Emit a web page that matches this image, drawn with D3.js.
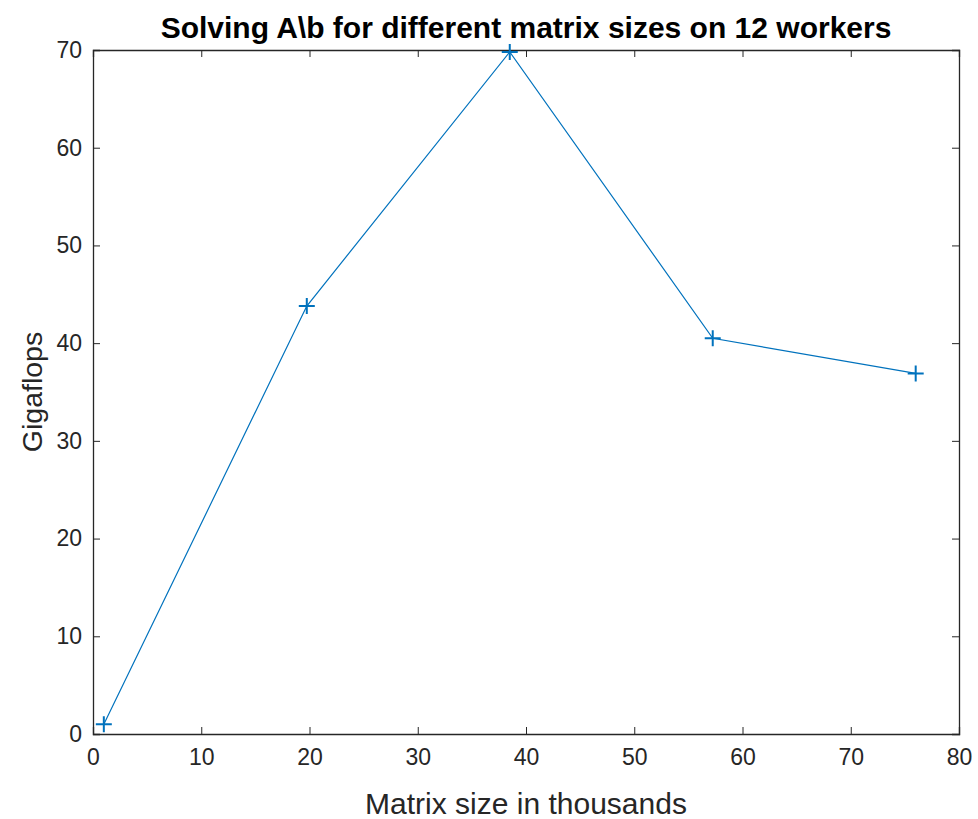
<!DOCTYPE html>
<html>
<head>
<script src="https://cdn.jsdelivr.net/npm/d3@7"></script>
<style>
  body { margin: 0; background: #fff; }
  text { font-family: "Liberation Sans", Arial, sans-serif; }
</style>
</head>
<body>
<script>
  // matrix size (thousands) and measured gigaflops
  var sizes = [1, 19.75, 38.5, 57.25, 76];
  var gflops = [1.0, 43.8, 69.8, 40.5, 36.9];
  var xTicks = [0, 10, 20, 30, 40, 50, 60, 70, 80];
  var yTicks = [0, 10, 20, 30, 40, 50, 60, 70];

  var w = 978, h = 819;
  var m = { left: 93, right: 19, top: 50, bottom: 85 };
  var tickLen = 7;

  var svg = d3.select("body").append("svg")
    .attr("width", w).attr("height", h);

  var x = d3.scaleLinear().domain([0, 80]).range([m.left, w - m.right]);
  var y = d3.scaleLinear().domain([0, 70]).range([h - m.bottom, m.top]);

  var axisColor = "#262626";

  // bottom + top
  svg.append("g")
    .attr("transform", "translate(0," + y(0) + ")")
    .call(d3.axisBottom(x).tickValues(xTicks).tickSize(-tickLen).tickPadding(15).tickFormat(d3.format("d")))
    .call(function (g) {
      g.select(".domain").attr("stroke", axisColor).attr("stroke-width", 1.3);
      g.selectAll(".tick line").attr("stroke", axisColor);
      g.selectAll(".tick text").attr("fill", axisColor).attr("font-size", 23);
    });
  svg.append("g")
    .attr("transform", "translate(0," + y(70) + ")")
    .call(d3.axisTop(x).tickValues(xTicks).tickSize(-tickLen).tickFormat(""))
    .call(function (g) {
      g.select(".domain").attr("stroke", axisColor).attr("stroke-width", 1.3);
      g.selectAll(".tick line").attr("stroke", axisColor);
    });

  // left + right
  svg.append("g")
    .attr("transform", "translate(" + x(0) + ",0)")
    .call(d3.axisLeft(y).tickValues(yTicks).tickSize(-tickLen).tickPadding(11).tickFormat(d3.format("d")))
    .call(function (g) {
      g.select(".domain").attr("stroke", axisColor).attr("stroke-width", 1.3);
      g.selectAll(".tick line").attr("stroke", axisColor);
      g.selectAll(".tick text").attr("fill", axisColor).attr("font-size", 23);
    });
  svg.append("g")
    .attr("transform", "translate(" + x(80) + ",0)")
    .call(d3.axisRight(y).tickValues(yTicks).tickSize(-tickLen).tickFormat(""))
    .call(function (g) {
      g.select(".domain").attr("stroke", axisColor).attr("stroke-width", 1.3);
      g.selectAll(".tick line").attr("stroke", axisColor);
    });

  var pts = sizes.map(function (s, i) { return [s, gflops[i]]; });

  var line = d3.line()
    .x(function (d) { return x(d[0]); })
    .y(function (d) { return y(d[1]); });

  svg.append("path")
    .datum(pts)
    .attr("fill", "none")
    .attr("stroke", "#0072BD")
    .attr("stroke-width", 1.2)
    .attr("d", line);

  svg.selectAll("path.marker")
    .data(pts)
    .enter().append("path")
    .attr("class", "marker")
    .attr("transform", function (d) { return "translate(" + x(d[0]) + "," + y(d[1]) + ")"; })
    .attr("d", "M-8,0H8M0,-8V8")
    .attr("stroke", "#0072BD")
    .attr("stroke-width", 2)
    .attr("fill", "none");

  svg.append("text")
    .attr("x", (x(0) + x(80)) / 2)
    .attr("y", 38)
    .attr("text-anchor", "middle")
    .attr("font-size", 30)
    .attr("font-weight", "bold")
    .attr("fill", "#000")
    .text("Solving A\\b for different matrix sizes on 12 workers");

  svg.append("text")
    .attr("x", (x(0) + x(80)) / 2)
    .attr("y", 814)
    .attr("text-anchor", "middle")
    .attr("font-size", 30)
    .attr("fill", axisColor)
    .text("Matrix size in thousands");

  svg.append("text")
    .attr("transform", "translate(42," + (y(35)) + ") rotate(-90)")
    .attr("text-anchor", "middle")
    .attr("font-size", 28.5)
    .attr("fill", axisColor)
    .text("Gigaflops");
</script>
</body>
</html>
